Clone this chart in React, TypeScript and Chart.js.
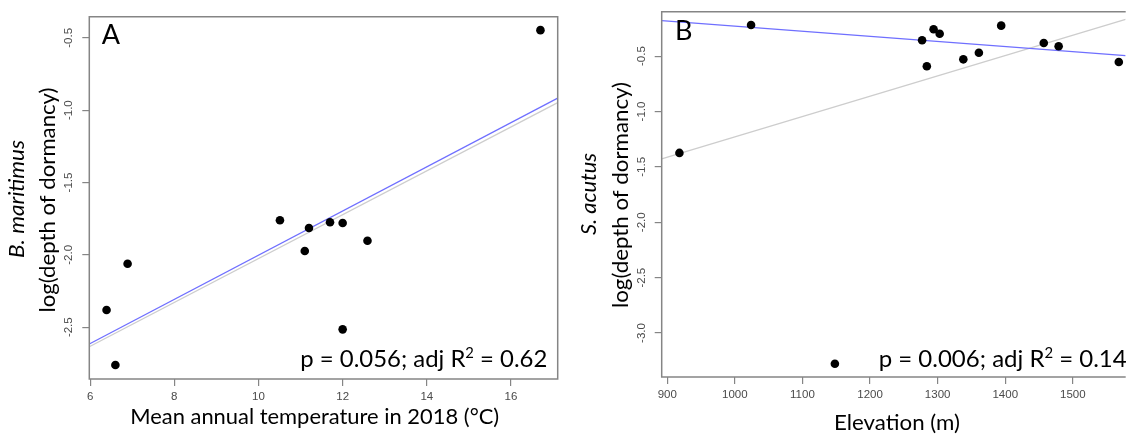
import React, { useEffect, useRef } from 'react';
import { Chart, registerables } from 'chart.js';
Chart.register(...registerables);

// ---------- Panel A: B. maritimus vs mean annual temperature ----------
const tempX = [16.7, 10.51, 11.2, 11.7, 12.0, 12.59, 11.1, 6.89, 6.39, 12.0, 6.6];
const tempY = [-0.447, -1.761, -1.814, -1.775, -1.78, -1.902, -1.973, -2.061, -2.381, -2.515, -2.761];
const tempBlueX = [5.98, 17.11];
const tempBlueY = [-2.616, -0.917];
const tempGrayX = [5.98, 17.11];
const tempGrayY = [-2.635, -0.948];
const tempXTicks = [6, 8, 10, 12, 14, 16];
const tempYTicks = [-2.5, -2.0, -1.5, -1.0, -0.5];
const tempXRange = [5.98, 17.11];
const tempYRange = [-2.858, -0.354];

// ---------- Panel B: S. acutus vs elevation ----------
const elevX = [1024, 1277, 1284, 1294, 1303, 1338, 1361, 1394, 1457, 1479, 1568, 918, 1148];
const elevY = [-0.219, -0.357, -0.592, -0.258, -0.298, -0.529, -0.469, -0.225, -0.382, -0.411, -0.553, -1.374, -3.278];
const elevBlueX = [891.8, 1578];
const elevBlueY = [-0.18, -0.496];
const elevGrayX = [891.8, 1578];
const elevGrayY = [-1.428, -0.168];
const elevXTicks = [900, 1000, 1100, 1200, 1300, 1400, 1500];
const elevYTicks = [-3.0, -2.5, -2.0, -1.5, -1.0, -0.5];
const elevXRange = [891.8, 1578.2];
const elevYRange = [-3.397, -0.099];

const W = 565;
const H = 437;
const TITLE_FONT = 'Lato';
const TICK_FONT = '"Liberation Sans", Arial, sans-serif';

type Part = { text: string; sup?: boolean };

function drawParts(
  ctx: CanvasRenderingContext2D,
  parts: Part[],
  size: number,
  x: number,
  y: number,
  align: 'left' | 'right' | 'center',
  width: number | null,
  opts: { rotate?: boolean; italic?: boolean; baseline?: CanvasTextBaseline } = {}
) {
  const style = opts.italic ? 'italic ' : '';
  const normal = `${style}${size}px ${TITLE_FONT}`;
  const small = `${style}${size * 0.62}px ${TITLE_FONT}`;
  ctx.save();
  let total = 0;
  const widths = parts.map((p) => {
    ctx.font = p.sup ? small : normal;
    const w = ctx.measureText(p.text).width;
    total += w;
    return w;
  });
  const sx = width ? width / total : 1;
  ctx.translate(x, y);
  if (opts.rotate) ctx.rotate(-Math.PI / 2);
  ctx.scale(sx, 1);
  ctx.fillStyle = '#000';
  ctx.textAlign = 'left';
  ctx.textBaseline = opts.baseline || 'alphabetic';
  let cx = align === 'left' ? 0 : align === 'right' ? -total : -total / 2;
  parts.forEach((p, i) => {
    ctx.font = p.sup ? small : normal;
    ctx.fillText(p.text, cx, p.sup ? -size * 0.36 : 0);
    cx += widths[i];
  });
  ctx.restore();
}

type PanelCfg = {
  xs: number[];
  ys: number[];
  blueX: number[];
  blueY: number[];
  grayX: number[];
  grayY: number[];
  xTicks: number[];
  yTicks: number[];
  xRange: number[];
  yRange: number[];
  area: { left: number; top: number; right: number; bottom: number };
  rightBorder: boolean;
  letter: { text: string; x: number; y: number };
  xTitle: { text: string; x: number; y: number; w: number };
  yTitle1: { text: string; dx: number; y: number; w: number };
  yTitle2: { text: string; dx: number; y: number; w: number };
  note: { p: string; r2: string; x: number; y: number; w: number };
};

const panelA: PanelCfg = {
  xs: tempX,
  ys: tempY,
  blueX: tempBlueX,
  blueY: tempBlueY,
  grayX: tempGrayX,
  grayY: tempGrayY,
  xTicks: tempXTicks,
  yTicks: tempYTicks,
  xRange: tempXRange,
  yRange: tempYRange,
  area: { left: 89.3, top: 16.7, right: 557.7, bottom: 379 },
  rightBorder: true,
  letter: { text: 'A', x: 101.7, y: 44 },
  xTitle: { text: 'Mean annual temperature in 2018 (\u00B0C)', x: 314.7, y: 424, w: 369 },
  yTitle1: { text: 'B. maritimus', dx: 72, y: 199, w: 118 },
  yTitle2: { text: 'log(depth of dormancy)', dx: 41, y: 200, w: 225 },
  note: { p: '0.056', r2: '0.62', x: 547.3, y: 367, w: 247 },
};

const panelB: PanelCfg = {
  xs: elevX,
  ys: elevY,
  blueX: elevBlueX,
  blueY: elevBlueY,
  grayX: elevGrayX,
  grayY: elevGrayY,
  xTicks: elevXTicks,
  yTicks: elevYTicks,
  xRange: elevXRange,
  yRange: elevYRange,
  area: { left: 96.7, top: 11.7, right: 565, bottom: 377 },
  rightBorder: false,
  letter: { text: 'B', x: 110, y: 40 },
  xTitle: { text: 'Elevation (m)', x: 332, y: 430, w: 126 },
  yTitle1: { text: 'S. acutus', dx: 72.7, y: 194, w: 82 },
  yTitle2: { text: 'log(depth of dormancy)', dx: 40.7, y: 195, w: 226 },
  note: { p: '0.006', r2: '0.14', x: 561.7, y: 366.5, w: 248 },
};

function makeConfig(cfg: PanelCfg): any {
  const pts = cfg.xs.map((x, i) => ({ x, y: cfg.ys[i] }));
  const blue = cfg.blueX.map((x, i) => ({ x, y: cfg.blueY[i] }));
  const gray = cfg.grayX.map((x, i) => ({ x, y: cfg.grayY[i] }));

  const decor = {
    id: 'decor',
    afterDraw(chart: any) {
      const ctx: CanvasRenderingContext2D = chart.ctx;
      const a = chart.chartArea;
      // plot box
      ctx.save();
      ctx.strokeStyle = '#858585';
      ctx.lineWidth = 1.5;
      ctx.beginPath();
      if (cfg.rightBorder) {
        ctx.rect(a.left, a.top, a.right - a.left, a.bottom - a.top);
      } else {
        ctx.moveTo(a.right, a.top);
        ctx.lineTo(a.left, a.top);
        ctx.lineTo(a.left, a.bottom);
        ctx.lineTo(a.right, a.bottom);
      }
      ctx.stroke();
      ctx.restore();

      // rotated y tick labels
      const ys = chart.scales.y;
      ctx.save();
      ctx.fillStyle = '#4a4a4a';
      ctx.font = `11.5px ${TICK_FONT}`;
      ctx.textAlign = 'center';
      ctx.textBaseline = 'middle';
      ys.ticks.forEach((t: any) => {
        const py = ys.getPixelForValue(t.value);
        ctx.save();
        ctx.translate(a.left - 20, py);
        ctx.rotate(-Math.PI / 2);
        ctx.fillText(t.value.toFixed(1), 0, 0);
        ctx.restore();
      });
      ctx.restore();

      // panel letter
      drawParts(ctx, [{ text: cfg.letter.text }], 27, cfg.letter.x, cfg.letter.y, 'left', null);

      // x title
      drawParts(ctx, [{ text: cfg.xTitle.text }], 22, cfg.xTitle.x, cfg.xTitle.y, 'center', cfg.xTitle.w);

      // y titles
      drawParts(ctx, [{ text: cfg.yTitle1.text }], 22, a.left - cfg.yTitle1.dx, cfg.yTitle1.y, 'center', cfg.yTitle1.w, {
        rotate: true,
        italic: true,
        baseline: 'middle',
      });
      drawParts(ctx, [{ text: cfg.yTitle2.text }], 22, a.left - cfg.yTitle2.dx, cfg.yTitle2.y, 'center', cfg.yTitle2.w, {
        rotate: true,
        baseline: 'middle',
      });

      // statistics note
      drawParts(
        ctx,
        [{ text: `p = ${cfg.note.p}; adj R` }, { text: '2', sup: true }, { text: ` = ${cfg.note.r2}` }],
        24,
        cfg.note.x,
        cfg.note.y,
        'right',
        cfg.note.w
      );
    },
  };

  return {
    type: 'scatter',
    data: {
      datasets: [
        {
          label: 'points',
          data: pts,
          backgroundColor: '#000',
          borderWidth: 0,
          pointRadius: 4.3,
          order: 0,
        },
        {
          label: 'fit',
          data: blue,
          showLine: true,
          borderColor: '#6f6fff',
          borderWidth: 1.3,
          pointRadius: 0,
          order: 1,
        },
        {
          label: 'fit2',
          data: gray,
          showLine: true,
          borderColor: '#cdcdcd',
          borderWidth: 1.3,
          pointRadius: 0,
          order: 2,
        },
      ],
    },
    options: {
      animation: false,
      responsive: false,
      events: [],
      layout: {
        padding: { left: 0, top: cfg.area.top, right: W - cfg.area.right, bottom: 0 },
      },
      plugins: { legend: { display: false }, tooltip: { enabled: false }, title: { display: false } },
      scales: {
        x: {
          type: 'linear',
          min: cfg.xRange[0],
          max: cfg.xRange[1],
          afterBuildTicks: (s: any) => {
            s.ticks = cfg.xTicks.map((v) => ({ value: v }));
          },
          afterFit: (s: any) => {
            s.height = H - cfg.area.bottom;
          },
          border: { display: false },
          grid: { drawOnChartArea: false, drawTicks: true, tickLength: 7, color: '#858585', lineWidth: 1.2 },
          ticks: {
            autoSkip: false,
            maxRotation: 0,
            minRotation: 0,
            padding: 4,
            color: '#4a4a4a',
            font: { family: TICK_FONT, size: 11.5 },
            callback: (v: any) => String(v),
          },
        },
        y: {
          type: 'linear',
          min: cfg.yRange[0],
          max: cfg.yRange[1],
          afterBuildTicks: (s: any) => {
            s.ticks = cfg.yTicks.map((v) => ({ value: v }));
          },
          afterFit: (s: any) => {
            s.width = cfg.area.left;
          },
          border: { display: false },
          grid: { drawOnChartArea: false, drawTicks: true, tickLength: 7, color: '#858585', lineWidth: 1.2 },
          ticks: { display: false },
        },
      },
    },
    plugins: [decor],
  };
}

function Panel({ cfg, left }: { cfg: PanelCfg; left: number }) {
  const ref = useRef<HTMLCanvasElement>(null);
  useEffect(() => {
    const chart = new Chart(ref.current as HTMLCanvasElement, makeConfig(cfg));
    return () => chart.destroy();
  }, [cfg]);
  return (
    <canvas
      ref={ref}
      width={W}
      height={H}
      style={{ position: 'absolute', left, top: 0, width: W, height: H, display: 'block' }}
    />
  );
}

export default function App() {
  return (
    <div style={{ position: 'absolute', left: 0, top: 0, width: 1130, height: 437, background: '#fff', overflow: 'hidden' }}>
      <Panel cfg={panelA} left={0} />
      <Panel cfg={panelB} left={565} />
    </div>
  );
}
